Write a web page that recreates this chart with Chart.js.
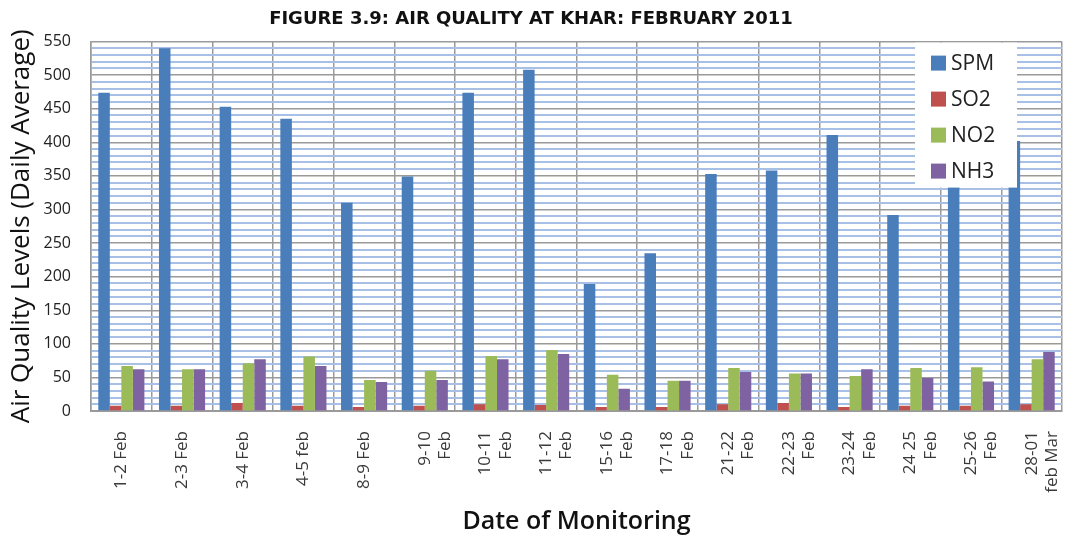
<!DOCTYPE html>
<html>
<head>
<meta charset="utf-8">
<script src="https://cdn.jsdelivr.net/npm/chart.js@4"></script>
<style>
  html, body { margin: 0; padding: 0; background: #fff; }
  #wrap { width: 1072px; height: 539px; position: relative; }
</style>
</head>
<body>
<div id="wrap"><canvas id="airChart"></canvas></div>
<script>
// Datos (promedio diario)
const dates = [
  '1-2 Feb', '2-3 Feb', '3-4 Feb', '4-5 feb', '8-9 Feb',
  ['9-10', 'Feb'], ['10-11', 'Feb'], ['11-12', 'Feb'], ['15-16', 'Feb'],
  ['17-18', 'Feb'], ['21-22', 'Feb'], ['22-23', 'Feb'], ['23-24', 'Feb'],
  ['24 25', 'Feb'], ['25-26', 'Feb'], ['28-01', 'feb Mar']
];
const spm = [474, 540, 453, 435, 310, 349, 474, 508, 189, 235, 353, 358, 411, 292, 338, 402];
const so2 = [8, 8, 12, 8, 6, 8, 10, 9, 6, 6, 10, 12, 6, 8, 8, 10];
const no2 = [67, 62, 71, 81, 46, 60, 82, 91, 54, 45, 64, 56, 52, 64, 65, 77];
const nh3 = [62, 62, 77, 67, 43, 46, 77, 85, 33, 45, 58, 56, 62, 49, 44, 88];

const seriesNames = ['SPM', 'SO2', 'NO2', 'NH3'];
const seriesColors = ['#4a7ebb', '#c0504d', '#9bbb59', '#7f62a1'];

const FONT = '"Open Sans", Lato, sans-serif';

// Leyenda dibujada dentro del área del gráfico
const insideLegend = {
  id: 'insideLegend',
  afterDraw(chart) {
    const { ctx, chartArea } = chart;
    const x = chartArea.right - 147;
    const y = chartArea.top + 1;
    ctx.save();
    ctx.fillStyle = '#ffffff';
    ctx.fillRect(x, y, 102, 145);
    ctx.font = '21px ' + FONT;
    ctx.textBaseline = 'middle';
    chart.data.datasets.forEach((ds, i) => {
      const cy = y + 20 + i * 36;
      ctx.fillStyle = ds.backgroundColor;
      ctx.fillRect(x + 16, cy - 7, 15, 15);
      ctx.fillStyle = '#222';
      ctx.fillText(ds.label, x + 36, cy + 1);
    });
    ctx.restore();
  }
};

document.addEventListener('DOMContentLoaded', () => {
  const ctx = document.getElementById('airChart').getContext('2d');
  const values = [spm, so2, no2, nh3];

  new Chart(ctx, {
    type: 'bar',
    data: {
      labels: dates,
      datasets: seriesNames.map((name, i) => ({
        label: name,
        data: values[i],
        backgroundColor: seriesColors[i],
        categoryPercentage: 0.76,
        barPercentage: 1.0
      }))
    },
    options: {
      responsive: true,
      maintainAspectRatio: false,
      animation: false,
      layout: { padding: { left: 0, right: 10, top: 0, bottom: 2 } },
      plugins: {
        legend: { display: false },
        tooltip: { enabled: false },
        title: {
          display: true,
          text: 'FIGURE 3.9: AIR QUALITY AT KHAR: FEBRUARY 2011',
          color: '#111',
          font: { family: '"DejaVu Sans", sans-serif', size: 18, weight: 'bold' },
          padding: { top: 9, bottom: 11 }
        }
      },
      scales: {
        x: {
          grid: { color: '#9a9a9a', lineWidth: 1.5, offset: true, drawTicks: false },
          border: { color: '#9a9a9a', width: 2 },
          ticks: {
            color: '#3a3a3a',
            font: { family: FONT, size: 17 },
            minRotation: 90,
            maxRotation: 90,
            autoSkip: false,
            padding: 20
          },
          title: {
            display: true,
            text: 'Date of Monitoring',
            color: '#111',
            font: { family: FONT, size: 25, weight: '600' },
            padding: { top: 0, bottom: 0 }
          },
          afterFit: (scale) => {
            scale.height = 126;
            scale.paddingRight = 0;
          }
        },
        y: {
          min: 0,
          max: 550,
          grid: {
            drawTicks: false,
            color: (c) => (c.tick && c.tick.value % 50 === 0) ? '#9a9a9a' : '#a8bfe6',
            lineWidth: (c) => (c.tick && c.tick.value % 50 === 0) ? 1.5 : 2
          },
          border: { color: '#9a9a9a', width: 1.5 },
          ticks: {
            stepSize: 10,
            autoSkip: false,
            color: '#222',
            padding: 20,
            font: { family: FONT, size: 16 },
            callback: (v) => (v % 50 === 0 ? v : '')
          },
          title: {
            display: true,
            text: 'Air Quality Levels (Daily Average)',
            color: '#111',
            font: { family: FONT, size: 26 },
            padding: { top: 6, bottom: 0 }
          },
          afterFit: (scale) => { scale.width = 91; }
        }
      }
    },
    plugins: [insideLegend]
  });
});
</script>
</body>
</html>
